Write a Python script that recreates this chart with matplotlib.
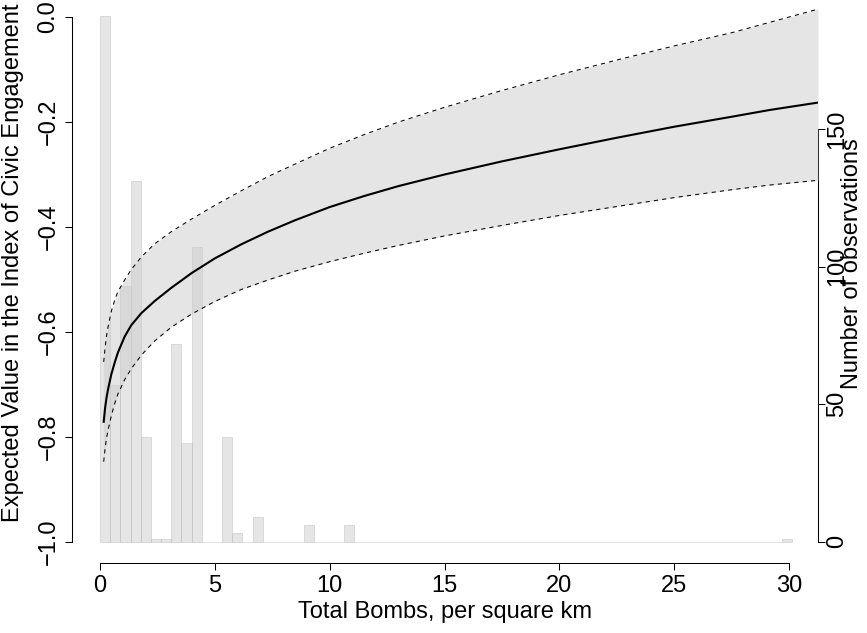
import numpy as np
import matplotlib
matplotlib.use("Agg")
from matplotlib import pyplot as plt

plt.rcParams['font.family'] = ['Liberation Sans', 'DejaVu Sans']

# expected value curve and its bounds
bombs = [0.16, 0.22, 0.28, 0.35, 0.49, 0.64, 0.78, 1.07, 1.36, 1.80, 2.38,
         3.10, 3.98, 4.99, 6.15, 7.31, 8.5, 10, 11.5, 13, 15, 17.5, 20,
         22.5, 25, 27.5, 29.17, 31.26]
ev_mean = [-0.771, -0.745, -0.726, -0.709, -0.681, -0.658, -0.639, -0.609,
           -0.587, -0.564, -0.541, -0.516, -0.488, -0.460, -0.433, -0.409,
           -0.387, -0.362, -0.341, -0.322, -0.300, -0.275, -0.252, -0.230,
           -0.209, -0.190, -0.177, -0.163]
ev_upper = [-0.657, -0.630, -0.608, -0.590, -0.561, -0.539, -0.523, -0.501,
            -0.481, -0.457, -0.432, -0.409, -0.385, -0.359, -0.331, -0.304,
            -0.280, -0.250, -0.224, -0.200, -0.172, -0.140, -0.110, -0.082,
            -0.055, -0.030, -0.010, 0.015]
ev_lower = [-0.847, -0.822, -0.803, -0.787, -0.760, -0.736, -0.718, -0.691,
            -0.670, -0.644, -0.617, -0.591, -0.566, -0.542, -0.519, -0.501,
            -0.484, -0.466, -0.450, -0.435, -0.417, -0.397, -0.378, -0.361,
            -0.344, -0.329, -0.320, -0.311]

# histogram of observations (68 bins)
hist_counts = [191, 57, 93, 131, 38, 1, 1, 72, 36, 107, 0, 0, 38, 3, 0, 9,
               0, 0, 0, 0, 6, 0, 0, 0, 6] + [0] * 42 + [1]
bin_width = 0.443

x_ticks = [0, 5, 10, 15, 20, 25, 30]
y_ticks = [-1.0, -0.8, -0.6, -0.4, -0.2, 0.0]
y_ticklabels = ["\u22121.0", "\u22120.8", "\u22120.6", "\u22120.4", "\u22120.2", "0.0"]
n_ticks = [0, 50, 100, 150]

fs = 17
W, H = 867, 633
fig = plt.figure(figsize=(W / 100, H / 100), dpi=100)
ax = fig.add_axes([72 / W, (H - 563) / H, (818 - 72) / W, (563 + 4) / H])
ax2 = ax.twinx()

# histogram behind the curve
bin_left = np.arange(len(hist_counts)) * bin_width
ax2.bar(bin_left, hist_counts, width=bin_width, align='edge',
        color=(0.8, 0.8, 0.8, 0.5), edgecolor=(0.72, 0.72, 0.72, 0.5), linewidth=0.6)
ax2.set_ylim(-7.75, 198.4)

ax.set_zorder(ax2.get_zorder() + 1)
ax.patch.set_visible(False)

ax.fill_between(bombs, ev_lower, ev_upper, color=(0.8, 0.8, 0.8), alpha=0.5, lw=0)
ax.plot(bombs, ev_mean, color='black', lw=1.5)
ax.plot(bombs, ev_upper, color='black', lw=0.75, dashes=(4, 4))
ax.plot(bombs, ev_lower, color='black', lw=0.75, dashes=(4, 4))

ax.set_xlim(-1.22, 31.26)
ax.set_ylim(-1.04, 0.04)

for s in ['top', 'right']:
    ax.spines[s].set_visible(False)
for s in ['top', 'left', 'bottom']:
    ax2.spines[s].set_visible(False)
ax.spines['left'].set_bounds(-1.0, 0.0)
ax.spines['bottom'].set_bounds(0, 30)
ax2.spines['right'].set_bounds(0, 150)
for sp in list(ax.spines.values()) + list(ax2.spines.values()):
    sp.set_linewidth(0.75)

ax.set_xticks(x_ticks)
ax.set_yticks(y_ticks)
ax.set_yticklabels(y_ticklabels)
ax2.set_yticks(n_ticks)

ax.tick_params(axis='x', direction='out', length=5, width=0.75, labelsize=fs, pad=4)
ax.tick_params(axis='y', direction='out', length=5, width=0.75, labelsize=fs, pad=4)
ax2.tick_params(axis='y', direction='out', length=5, width=0.75, labelsize=fs, pad=1)
plt.setp(ax.get_yticklabels(), rotation=90, va='center')
plt.setp(ax2.get_yticklabels(), rotation=90, va='center')

fig.text(445 / W, 1 - 612 / H, "Total Bombs, per square km", ha='center', va='center', fontsize=fs)
fig.text(13 / W, 1 - 263 / H, "Expected Value in the Index of Civic Engagement",
         ha='center', va='center', rotation=90, fontsize=fs)
fig.text(852 / W, 1 - 264 / H, "Number of observations",
         ha='center', va='center', rotation=90, fontsize=fs)

fig.savefig("out.png", dpi=100)
